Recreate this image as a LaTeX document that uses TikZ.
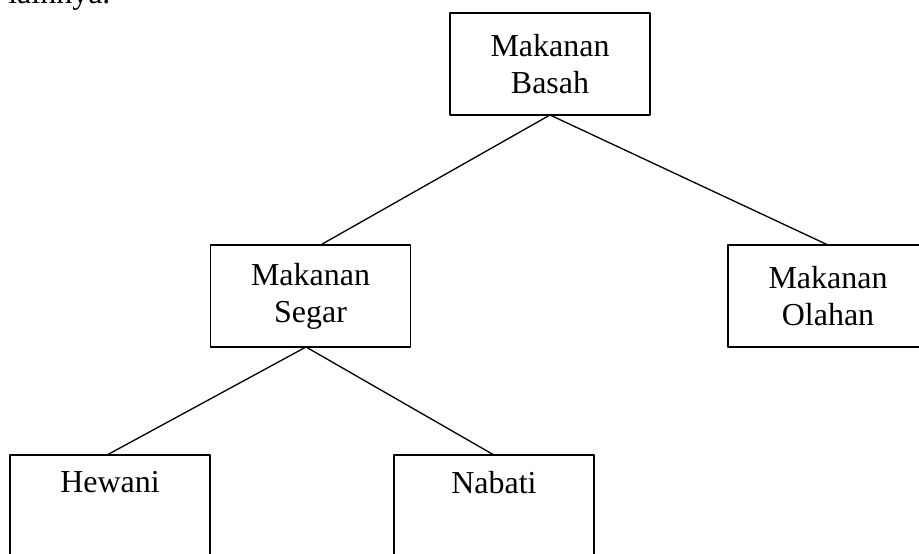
\documentclass[tikz,border=0pt]{standalone}
\usepackage{fontspec}
\setmainfont{Liberation Serif}
\usepackage{tikz}
\tikzset{kotak/.style={draw,line width=0.75pt,minimum width=4cm,minimum height=2.04cm,align=center,inner sep=0pt,outer sep=0pt},
garis/.style={line width=0.75pt}}
\tikzstyle{every node}=[font=\fontsize{18.2}{20.9}\selectfont]

\begin{document}
\begin{tikzpicture}[line cap=round,line join=round,x=0.02cm,y=-0.02cm]
                \useasboundingbox (0,0) rectangle (919,554);
                \clip (0,0) rectangle (919,554);
                \node [anchor=base west,inner sep=0pt] (teks) at (8,4) {lainnya.};
                \node [kotak] (basah) at (550,64) {Makanan\\Basah};
                \node [kotak] (segar) at (310.5,296) {Makanan\\Segar};
                \node [kotak] (olahan) at (828,296) {Makanan\\Olahan};
                \node [kotak] (hewani) at (110,506) {Hewani\\\strut};
                \node [kotak] (nabati) at (494,506) {Nabati\\\strut};
                \draw [garis] (basah.south) -- ([xshift=0.2cm]segar.north);
                \draw [garis] (basah.south) -- (olahan.north);
                \draw [garis] ([xshift=-0.09cm]segar.south) -- ([xshift=-0.06cm]hewani.north);
                \draw [garis] ([xshift=-0.09cm]segar.south) -- (nabati.north);
            \end{tikzpicture}
\end{document}
